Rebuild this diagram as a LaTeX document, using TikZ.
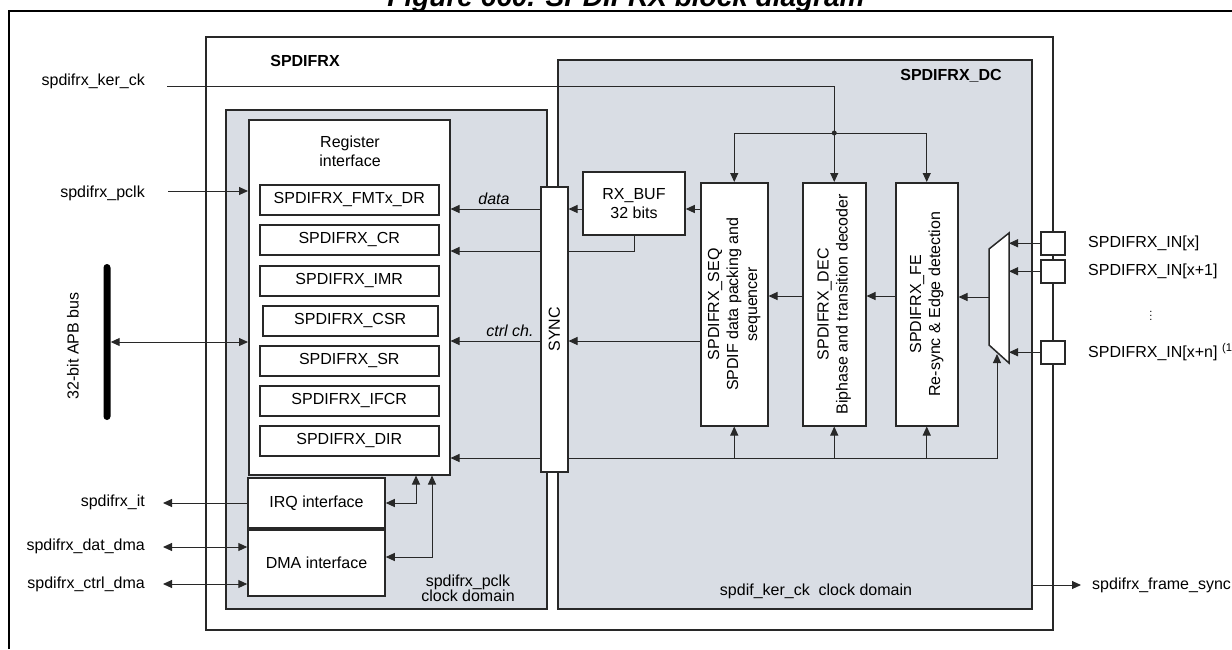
\documentclass[tikz,border=0pt]{standalone}
\usepackage{fontspec}
\setmainfont{Liberation Sans}
\usetikzlibrary{arrows.meta,positioning,calc}
\definecolor{domgray}{RGB}{217,221,228}
\definecolor{linegray}{RGB}{40,40,40}
\newcommand\figfont{\fontsize{16}{19}\selectfont}
\begin{document}
\begin{tikzpicture}[x=1pt,y=-1pt,
        font=\figfont,
        box/.style={draw=linegray,line width=1.5pt,fill=white,inner sep=0pt,anchor=north west},
        clkdomain/.style={box,fill=domgray},
        reg/.style={box,minimum height=30pt},
        pinbox/.style={box,minimum width=24pt,minimum height=23pt},
        arr/.style={draw=linegray,line width=1pt,-{Triangle[length=9pt,width=8pt]}},
        darr/.style={arr,{Triangle[length=9pt,width=8pt]}-{Triangle[length=9pt,width=8pt]}},
        lbl/.style={inner sep=0pt,anchor=east},
        vtext/.style={rotate=90,align=center,inner sep=0pt}]
    \useasboundingbox (0,0) rectangle (1232,649);
    \node[font=\fontsize{28}{30}\selectfont\bfseries\itshape,anchor=base] (title) at (626,6) {Figure 660. SPDIFRX block diagram};
    \draw[line width=2pt] (9,649) -- (9,11) -- (1232,11);

    \node[box,minimum width=847pt,minimum height=593pt] (spdifrx) at (205,36) {};
    \node[font=\figfont\bfseries] (spdifrxlbl) at (305,61) {SPDIFRX};
    \node[clkdomain,minimum width=321pt,minimum height=499pt] (pclkdom) at (225,109) {};
    \node[clkdomain,minimum width=474pt,minimum height=549pt] (kerdom) at (557,59) {};
    \node[font=\figfont\bfseries] (kerdomlbl) at (951,76) {SPDIFRX\_DC};
    \node[align=center,font=\fontsize{16}{15}\selectfont] (pclkdomlbl) at (468,588) {spdifrx\_pclk\\clock domain};
    \node (kerdomlbl2) at (816,591) {spdif\_ker\_ck\ \ clock domain};

    % register interface
    \node[box,minimum width=201pt,minimum height=355pt] (regif) at (248,119) {};
    \node[align=center] (regiflbl) at (350,151) {Register\\interface};
    \foreach \nm/\xx/\yy/\ww/\txt in {fmtx/259/184/179/FMTx\_DR, cr/259/224/179/CR, imr/259/265/179/IMR,
            csr/262/305/175/CSR, sr/259/345/179/SR, ifcr/259/385/179/IFCR, dir/259/425/179/DIR}
        \node[reg,minimum width=\ww] (\nm) at (\xx,\yy) {SPDIFRX\_\txt};
    \node[box,minimum width=137pt,minimum height=50pt,anchor=center] (irq) at (316.5,503) {IRQ interface};
    \node[box,minimum width=137pt,minimum height=66pt,anchor=center] (dma) at (316.5,563) {DMA interface};

    % kernel clock blocks
    \node[box,minimum width=27pt,minimum height=285pt] (sync) at (540,186) {};
    \node[vtext] (synclbl) at (sync.center) {SYNC};
    \node[box,minimum width=102pt,minimum height=63pt,align=center,anchor=center] (rxbuf) at (634,203.5) {RX\_BUF\\32 bits};
    \node[box,minimum width=67pt,minimum height=243pt] (seq) at (700,182) {};
    \node[vtext] (seqlbl) at (seq.center) {SPDIFRX\_SEQ\\SPDIF data packing and\\sequencer};
    \node[box,minimum width=63pt,minimum height=243pt] (dec) at (802,182) {};
    \node[vtext] (declbl) at (dec.center) {SPDIFRX\_DEC\\Biphase and transition decoder};
    \node[box,minimum width=62pt,minimum height=243pt] (fe) at (895,182) {};
    \node[vtext] (felbl) at (fe.center) {SPDIFRX\_FE\\Re-sync \& Edge detection};
    \draw[draw=linegray,line width=1.5pt,fill=white] (1009,233) -- (989,249) -- (989,345) -- (1009,363) -- cycle;
    \coordinate (muxout) at (989,297);
    \coordinate (muxin) at (1009,0);
    \coordinate (muxsel) at (997,354);

    % input pins
    \node[pinbox] (pin1) at (1040,231) {};
    \node[pinbox] (pin2) at (1040,259) {};
    \node[pinbox] (pin3) at (1040,340) {};
    \node[anchor=west,inner sep=0pt] (pin1lbl) at (1088,243) {SPDIFRX\_IN[x]};
    \node[anchor=west,inner sep=0pt] (pin2lbl) at (1088,271) {SPDIFRX\_IN[x+1]};
    \node[font=\fontsize{11}{11}\selectfont,inner sep=0pt] (pindots) at (1151,313) {$\vdots$};
    \node[anchor=west,inner sep=0pt] (pin3lbl) at (1088,352) {SPDIFRX\_IN[x+n]\ \textsuperscript{(1)}};
    \foreach \p in {pin1,pin2,pin3}
        \draw[arr] (\p.west) -- (muxin |- \p.west);

    % outside signals
    \node[lbl] (kerlbl) at (145,81) {spdifrx\_ker\_ck};
    \node[lbl] (pclklbl) at (145,193) {spdifrx\_pclk};
    \node[lbl] (itlbl) at (145,502) {spdifrx\_it};
    \node[lbl] (datlbl) at (145,546) {spdifrx\_dat\_dma};
    \node[lbl] (ctrllbl) at (145,584) {spdifrx\_ctrl\_dma};
    \node[anchor=west,inner sep=0pt] (fslbl) at (1092,585) {spdifrx\_frame\_sync};
    \node[fill=black,minimum width=7pt,minimum height=156pt,rounded corners=3.5pt,inner sep=0pt] (apb) at (107,342) {};
    \node[rotate=90] (apblbl) at (73,346) {32-bit APB bus};
    \coordinate (kerin) at (167,86);
    \coordinate (pclkin) at (168,191);
    \coordinate (itout) at (163,503);
    \coordinate (datout) at (163,547);
    \coordinate (ctrlout) at (163,584);
    \coordinate (fsout) at (1081,585);

    \draw[arr] (kerin) -| (dec.north);
    \coordinate (kerdot) at (dec.north |- 0,133);
    \fill[linegray] (kerdot) circle (2.5pt);
    \draw[arr] (kerdot) -| (seq.north);
    \draw[arr] (kerdot) -| (fe.north);
    \draw[arr] (pclkin) -- (regif.west |- pclkin);
    \draw[darr] (apb.east) -- (regif.west |- apb.east);
    \draw[arr] (irq.west) -- (itout);
    \draw[darr] (datout) -- (dma.west |- datout);
    \draw[darr] (ctrlout) -- (dma.west |- ctrlout);
    \draw[darr] (irq.east) -| ([xshift=168pt]regif.south west);
    \draw[darr] ([yshift=6pt]dma.east) -| ([xshift=184pt]regif.south west);
    \draw[arr] (fsout -| kerdom.east) -- (fsout);

    % data paths
    \coordinate (rowdata) at (0,209);
    \coordinate (rowcr) at (0,251);
    \coordinate (rowpipe) at (0,296);
    \coordinate (rowctrl) at (0,341);
    \coordinate (rowdir) at (0,458);
    \draw[arr] (seq.west |- rowdata) -- (rxbuf.east |- rowdata);
    \draw[arr] (rxbuf.west |- rowdata) -- (sync.east |- rowdata);
    \draw[arr] (sync.west |- rowdata) -- (regif.east |- rowdata);
    \node[font=\figfont\itshape] (datalbl) at (494,199) {data};
    \draw[draw=linegray,line width=1pt] (rxbuf.south) |- (sync.east |- rowcr);
    \draw[arr] (sync.west |- rowcr) -- (regif.east |- rowcr);
    \draw[arr] (dec.west |- rowpipe) -- (seq.east |- rowpipe);
    \draw[arr] (fe.west |- rowpipe) -- (dec.east |- rowpipe);
    \draw[arr] (muxout) -- (fe.east |- muxout);
    \draw[arr] (seq.west |- rowctrl) -- (sync.east |- rowctrl);
    \draw[arr] (sync.west |- rowctrl) -- (regif.east |- rowctrl);
    \node[font=\figfont\itshape] (ctrllbl2) at (510,331) {ctrl ch.};
    \draw[arr] (sync.west |- rowdir) -- (regif.east |- rowdir);
    \draw[arr] (sync.east |- rowdir) -| (muxsel);
    \foreach \b in {seq,dec,fe}
        \draw[arr] (\b.south |- rowdir) -- (\b.south);
\end{tikzpicture}
\end{document}
